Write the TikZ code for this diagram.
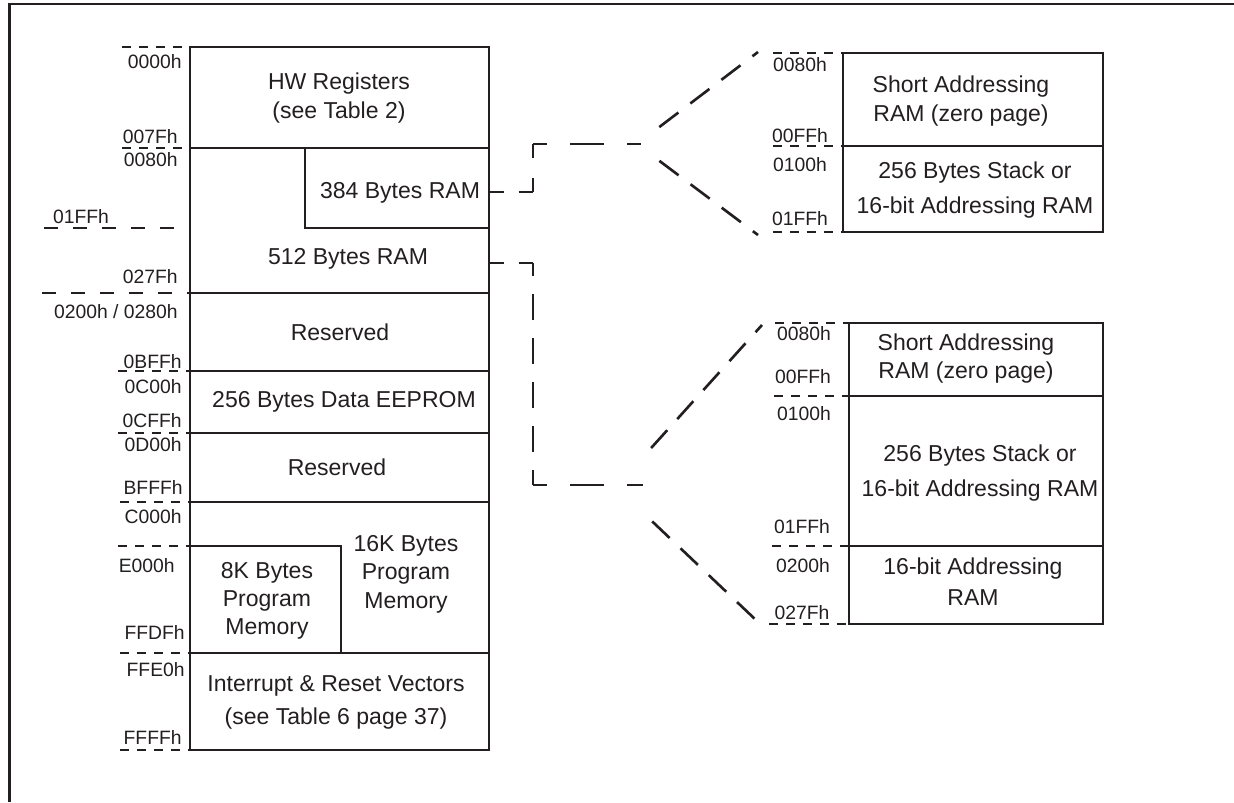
\documentclass[tikz,border=0pt]{standalone}
\usepackage{fontspec}
\setmainfont{Liberation Sans}
\definecolor{ink}{RGB}{35,31,32}

\begin{document}
\begin{tikzpicture}[x=0.02cm, y=-0.02cm, color=ink,
		region/.style={line width=1.5pt},
		tick/.style={line width=0.75pt, dash pattern=on 0.18cm off 0.16cm},
		longtick/.style={line width=0.75pt, dash pattern=on 0.28cm off 0.3cm},
		link/.style={line width=1.5pt},
		stub/.style={link, dash pattern=on 0.29cm off 0.3cm},
		rise/.style={link, dash pattern=on 0.28cm off 0.4cm},
		drop/.style={link, dash pattern=on 0.52cm off 0.36cm, dash phase=0.26cm},
		run/.style={link, dash pattern=on 0.67cm off 0.47cm, dash phase=0.39cm},
		diag/.style={link, dash pattern=on 0.48cm off 0.3cm},
		addr/.style={inner sep=0pt, font=\fontsize{11}{13}\selectfont},
		memtext/.style={inner sep=0pt, align=center, font=\fontsize{13.1}{17}\selectfont}]

	\useasboundingbox (0,0) rectangle (1234,802);
	\draw[line width=1.2pt] (9.5,802) -- (9.5,4) -- (1234,4);

	% main memory map
	\draw[region] (190,47) rectangle (489,750);
	\foreach \y in {148, 293, 371, 433, 502, 653}
		\draw[region] (190,\y) -- (489,\y);
	\draw[region] (305,148) -- (305,228) -- (489,228);
	\draw[region] (190,546) -- (341,546) -- (341,653);

	\foreach \x/\y in {122/47, 122/148, 118/371, 118/433, 120/502, 118/546, 120/653, 120/750}
		\draw[tick] (\x,\y) -- (190,\y);
	\draw[longtick] (44,228) -- (190,228);
	\draw[longtick] (42,293) -- (190,293);

	\node[addr, anchor=east] (a0000) at (182,62) {0000h};
	\node[addr, anchor=east] (a007F) at (178,137) {007Fh};
	\node[addr, anchor=east] (a0080) at (178,160) {0080h};
	\node[addr] (a01FF) at (81,217) {01FFh};
	\node[addr, anchor=east] (a027F) at (178,277) {027Fh};
	\node[addr, anchor=east] (a0200) at (178,312) {0200h / 0280h};
	\node[addr, anchor=east] (a0BFF) at (182,362) {0BFFh};
	\node[addr, anchor=east] (a0C00) at (182,387) {0C00h};
	\node[addr, anchor=east] (a0CFF) at (182,421) {0CFFh};
	\node[addr, anchor=east] (a0D00) at (182,445) {0D00h};
	\node[addr, anchor=east] (aBFFF) at (183,487) {BFFFh};
	\node[addr, anchor=east] (aC000) at (182,517) {C000h};
	\node[addr, anchor=east] (aE000) at (175,566) {E000h};
	\node[addr, anchor=east] (aFFDF) at (185,632) {FFDFh};
	\node[addr, anchor=east] (aFFE0) at (185,670) {FFE0h};
	\node[addr, anchor=east] (aFFFF) at (182,737) {FFFFh};

	\node[memtext] (hwreg) at (339,98) {HW Registers\\(see Table 2)};
	\node[memtext] (ram384) at (400,193) {384 Bytes RAM};
	\node[memtext] (ram512) at (348,259) {512 Bytes RAM};
	\node[memtext] (resv1) at (340,332) {Reserved};
	\node[memtext] (eeprom) at (344,402) {256 Bytes Data EEPROM};
	\node[memtext] (resv2) at (337,467) {Reserved};
	\node[memtext] (prog16) at (406,574) {16K Bytes\\[-0.8pt]Program\\[-0.8pt]Memory};
	\node[memtext] (prog8) at (267,601) {8K Bytes\\[-1.1pt]Program\\[-1.1pt]Memory};
	\node[memtext] (vectors) at (336,702) {Interrupt \& Reset Vectors\\[1.7pt](see Table 6 page 37)};

	% zoomed RAM maps
	\draw[region] (843,53) rectangle (1103,232);
	\draw[region] (843,146) -- (1103,146);
	\foreach \y in {53, 146, 232}
		\draw[tick] (773,\y) -- (843,\y);
	\draw[region] (849,323) rectangle (1103,624);
	\draw[region] (849,396) -- (1103,396);
	\draw[region] (849,546) -- (1103,546);
	\foreach \x/\y in {775/323, 774/396, 772/546, 769/624}
		\draw[tick] (\x,\y) -- (849,\y);

	\node[addr] (b0080) at (800,65) {0080h};
	\node[addr] (b00FF) at (800,136) {00FFh};
	\node[addr] (b0100) at (800,165) {0100h};
	\node[addr] (b01FF) at (800,219) {01FFh};
	\node[addr] (c0080) at (804,334) {0080h};
	\node[addr] (c00FF) at (803,377) {00FFh};
	\node[addr] (c0100) at (804,414) {0100h};
	\node[addr] (c01FF) at (802,527) {01FFh};
	\node[addr] (c0200) at (803,566) {0200h};
	\node[addr] (c027F) at (802,613) {027Fh};

	\node[memtext] (zpage1) at (961,101) {Short Addressing\\[-0.6pt]RAM (zero page)};
	\node[memtext] (stack1) at (975,190) {256 Bytes Stack or\\[2.8pt]16-bit Addressing RAM};
	\node[memtext] (zpage2) at (966,359) {Short Addressing\\[-1.1pt]RAM (zero page)};
	\node[memtext] (stack2) at (980,473) {256 Bytes Stack or\\[3.4pt]16-bit Addressing RAM};
	\node[memtext] (ram16) at (973,582) {16-bit Addressing\\[0.6pt]RAM};

	% dashed links
	\coordinate (out1) at (489,192);
	\coordinate (knee1a) at (533,192);
	\coordinate (knee1b) at (533,144);
	\coordinate (bend1) at (641,144);
	\coordinate (fork1) at (637,144);
	\coordinate (top1) at (758,52);
	\coordinate (bot1) at (758,235);
	\draw[stub] (out1) -- (knee1a);
	\draw[rise] (knee1b) -- (knee1a);
	\draw[run] (knee1b) -- (bend1);
	\draw[diag, shorten <=0.56cm] (fork1) -- (top1);
	\draw[diag, shorten <=0.56cm] (fork1) -- (bot1);

	\coordinate (out2) at (489,263);
	\coordinate (knee2a) at (533,263);
	\coordinate (knee2b) at (533,485);
	\coordinate (bend2) at (643,485);
	\coordinate (fork2) at (616,487);
	\coordinate (top2) at (762,325);
	\coordinate (bot2) at (757,621);
	\draw[stub] (out2) -- (knee2a);
	\draw[drop] (knee2a) -- (knee2b);
	\draw[run] (knee2b) -- (bend2);
	\draw[diag, shorten <=1.05cm] (fork2) -- (top2);
	\draw[diag, shorten <=1.0cm] (fork2) -- (bot2);
\end{tikzpicture}
\end{document}
